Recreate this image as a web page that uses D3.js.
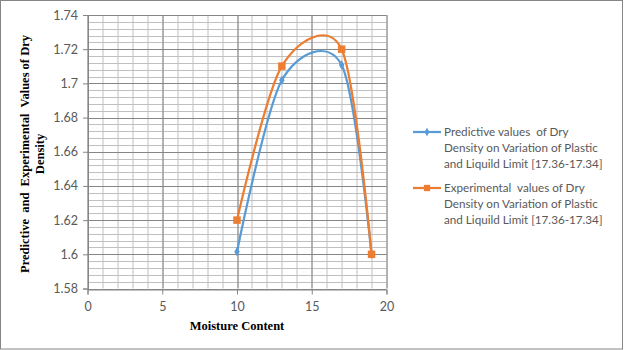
<!DOCTYPE html>
<html>
<head>
<meta charset="utf-8">
<script src="https://d3js.org/d3.v7.min.js"></script>
<style>
  body { margin: 0; background: #fff; }
  text { font-family: Lato, "Open Sans", sans-serif; }
</style>
</head>
<body>
<div id="chart"></div>
<script>
// data
var moisture = [10, 13, 17, 19];
var predictive = [1.6015, 1.7018, 1.7107, 1.6];
var experimental = [1.62, 1.7101, 1.72, 1.6];
var xTicks = [0, 5, 10, 15, 20];
var yTicks = [1.58, 1.6, 1.62, 1.64, 1.66, 1.68, 1.7, 1.72, 1.74];
var seriesNames = [
  ["Predictive values  of Dry", "Density on Variation of Plastic", "and Liquild Limit [17.36-17.34]"],
  ["Experimental  values of Dry", "Density on Variation of Plastic", "and Liquild Limit [17.36-17.34]"]
];

var W = 624, H = 350;
var margin = {top: 15, left: 87.5, right: 237.5, bottom: 61.5},
    width = W - margin.left - margin.right,
    height = H - margin.top - margin.bottom;

var svg = d3.select("#chart").append("svg")
    .attr("width", W)
    .attr("height", H);

// outer chart border
svg.append("rect")
    .attr("x", 0.5).attr("y", 0.5)
    .attr("width", W - 2).attr("height", H - 1.5)
    .attr("fill", "#fff")
    .attr("stroke", "#868686");

var g = svg.append("g")
    .attr("transform", "translate(" + margin.left + "," + margin.top + ")");

var x = d3.scaleLinear().domain([0, 20]).range([0, width]);
var y = d3.scaleLinear().domain([1.58, 1.74]).range([height, 0]);

// minor grid
g.append("g").selectAll("line")
  .data(d3.range(0, 20.001, 1))
  .enter().append("line")
    .attr("x1", function(d) { return Math.round(x(d)) + 0.5; })
    .attr("x2", function(d) { return Math.round(x(d)) + 0.5; })
    .attr("y1", 0).attr("y2", height)
    .attr("stroke", "#c0c0c0");
g.append("g").selectAll("line")
  .data(d3.range(0, 40.001, 1).map(function(i) { return 1.58 + i * 0.004; }))
  .enter().append("line")
    .attr("y1", function(d) { return Math.round(y(d)) + 0.5; })
    .attr("y2", function(d) { return Math.round(y(d)) + 0.5; })
    .attr("x1", 0).attr("x2", width)
    .attr("stroke", "#c0c0c0");

// major grid
g.append("g").selectAll("line")
  .data(xTicks)
  .enter().append("line")
    .attr("x1", function(d) { return Math.round(x(d)) + 0.5; })
    .attr("x2", function(d) { return Math.round(x(d)) + 0.5; })
    .attr("y1", 0).attr("y2", height)
    .attr("stroke", "#868686");
g.append("g").selectAll("line")
  .data(yTicks)
  .enter().append("line")
    .attr("y1", function(d) { return Math.round(y(d)) + 0.5; })
    .attr("y2", function(d) { return Math.round(y(d)) + 0.5; })
    .attr("x1", 0).attr("x2", width)
    .attr("stroke", "#868686");

// axes
var xAxis = g.append("g")
    .attr("transform", "translate(0," + (Math.round(height) + 0.5) + ")")
    .call(d3.axisBottom(x).tickValues(xTicks).tickSize(5).tickPadding(8).tickFormat(d3.format("d")));
var yAxis = g.append("g")
    .attr("transform", "translate(0.5,0)")
    .call(d3.axisLeft(y).tickValues(yTicks).tickSize(5).tickPadding(5).tickFormat(function(d) { return String(+d.toFixed(2)); }));
[xAxis, yAxis].forEach(function(a) {
  a.select(".domain").attr("stroke", "#868686");
  a.selectAll(".tick line").attr("stroke", "#868686");
  a.selectAll(".tick text")
    .attr("fill", "#595959")
    .style("font-family", "Lato, sans-serif")
    .style("font-size", "12.5px");
});

// curves
var line = d3.line()
    .x(function(d) { return x(d[0]); })
    .y(function(d) { return y(d[1]); })
    .curve(d3.curveCardinal.tension(0.1));

var series = [
  {values: predictive, color: "#5b9bd5", marker: "diamond"},
  {values: experimental, color: "#ed7d31", marker: "square"}
];

series.forEach(function(s) {
  var pts = moisture.map(function(m, i) { return [m, s.values[i]]; });
  g.append("path")
    .datum(pts)
    .attr("fill", "none")
    .attr("stroke", s.color)
    .attr("stroke-width", 2.25)
    .attr("d", line);
  g.selectAll(null)
    .data(pts)
    .enter().append("path")
      .attr("transform", function(d) { return "translate(" + x(d[0]) + "," + y(d[1]) + ")"; })
      .attr("d", d3.symbol().type(s.marker === "square" ? d3.symbolSquare : d3.symbolDiamond).size(s.marker === "square" ? 56 : 26))
      .attr("fill", s.color);
});

// legend
var legend = svg.append("g").attr("transform", "translate(413,132)");
series.forEach(function(s, i) {
  var ly = i * 56;
  legend.append("line")
    .attr("x1", 0).attr("x2", 28)
    .attr("y1", ly).attr("y2", ly)
    .attr("stroke", s.color).attr("stroke-width", 2.25);
  legend.append("path")
    .attr("transform", "translate(14," + ly + ")")
    .attr("d", d3.symbol().type(s.marker === "square" ? d3.symbolSquare : d3.symbolDiamond).size(s.marker === "square" ? 40 : 22))
    .attr("fill", s.color);
  seriesNames[i].forEach(function(t, j) {
    legend.append("text")
      .attr("x", 31)
      .attr("y", ly + j * 16 + 4)
      .attr("fill", "#595959")
      .style("font-size", "11.7px")
      .style("white-space", "pre")
      .text(t);
  });
});

// axis titles
svg.append("text")
    .attr("x", 237)
    .attr("y", 330)
    .attr("text-anchor", "middle")
    .style("font-family", "'Liberation Serif', 'Times New Roman', serif")
    .style("font-weight", "bold")
    .style("font-size", "12.5px")
    .text("Moisture Content");

var yt = svg.append("text")
    .attr("transform", "translate(29,154) rotate(-90)")
    .attr("text-anchor", "middle")
    .style("font-family", "'Liberation Serif', 'Times New Roman', serif")
    .style("font-weight", "bold")
    .style("font-size", "12.5px")
    .style("white-space", "pre");
yt.append("tspan").attr("x", 0).attr("y", 0).text("Predictive  and  Experimental  Values of Dry");
yt.append("tspan").attr("x", 0).attr("y", 15).text("Density");
</script>
</body>
</html>
